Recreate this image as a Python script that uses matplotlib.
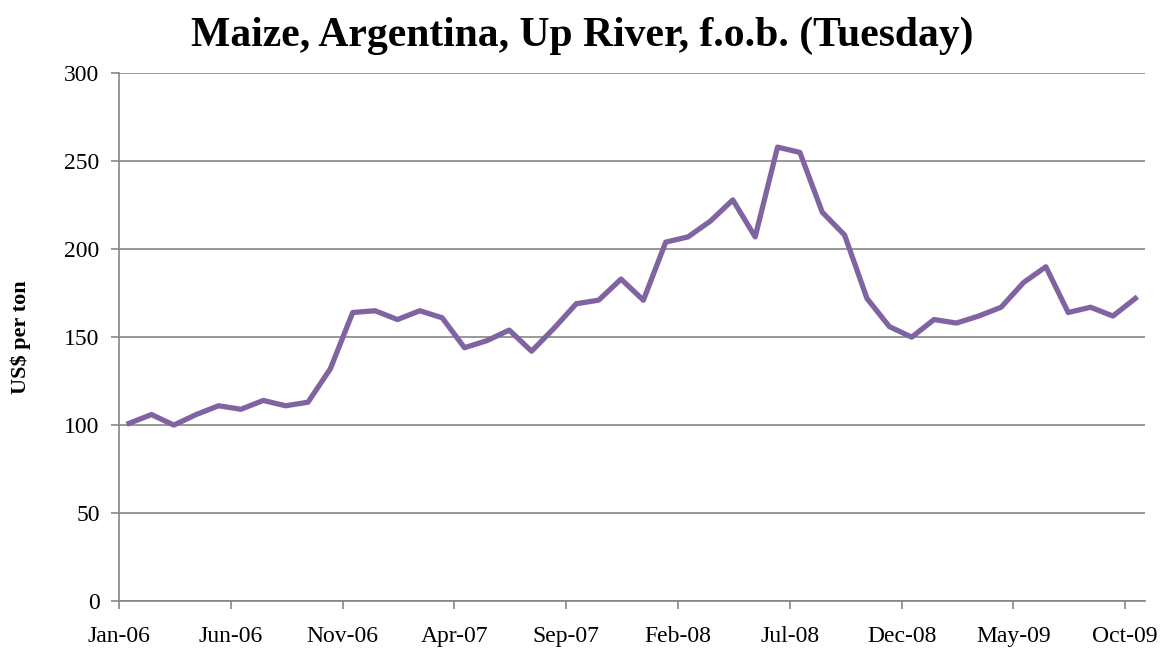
import numpy as np
import matplotlib.pyplot as plt

# prices per month, Jan-06 .. Oct-09
precos = [101, 106, 100, 106, 111, 109, 114, 111, 113, 132,
          164, 165, 160, 165, 161, 144, 148, 154, 142, 155,
          169, 171, 183, 171, 204, 207, 216, 228, 207, 258,
          255, 221, 208, 172, 156, 150, 160, 158, 162, 167,
          181, 190, 164, 167, 162, 172]
rotulos = ['Jan-06', 'Jun-06', 'Nov-06', 'Apr-07', 'Sep-07', 'Feb-08',
           'Jul-08', 'Dec-08', 'May-09', 'Oct-09']

plt.rcParams['font.family'] = ['Liberation Serif', 'DejaVu Serif']

fig = plt.figure(figsize=(11.74, 6.54), dpi=100)
ax = fig.add_axes([0.1014, 0.081, 0.9756 - 0.1014, 0.888 - 0.081])

x = np.arange(len(precos)) + 0.45
ax.plot(x, precos, color='#8064A2', linewidth=3.8, solid_joinstyle='round')

ax.set_xlim(0, 45.9)
ax.set_ylim(0, 300)
ax.set_yticks(range(0, 301, 50))
ax.set_xticks(np.arange(0, 46, 5))
ax.set_xticklabels(rotulos)
ax.grid(axis='y', color='#868686', linewidth=1.2)
ax.set_axisbelow(True)

for lado in ['left', 'bottom', 'right', 'top']:
    ax.spines[lado].set_color('#868686')
    ax.spines[lado].set_linewidth(1.2)
ax.spines['top'].set_visible(False)
ax.spines['right'].set_visible(False)

ax.tick_params(axis='both', colors='#868686', labelcolor='black', labelsize=17, length=6, width=1.2)
ax.tick_params(axis='x', pad=12)
ax.tick_params(axis='y', pad=8)

ax.set_ylabel('US$ per ton', fontsize=16, fontweight='bold', labelpad=24)
fig.suptitle('Maize, Argentina, Up River, f.o.b. (Tuesday)', fontsize=30, fontweight='bold', x=0.496, y=0.975)

fig.savefig('out.png', dpi=100)
